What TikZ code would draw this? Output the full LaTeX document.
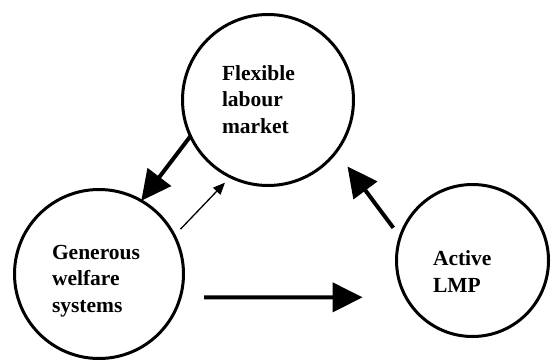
\documentclass[tikz,border=0pt]{standalone}
\usepackage{fontspec}
\setmainfont{Liberation Serif}
\usetikzlibrary{arrows.meta}

\begin{document}
\begin{tikzpicture}[x=1pt,y=1pt]
\tikzstyle{every node}+=[inner sep=0pt,outer sep=0pt]
\tikzstyle{ring}=[draw=black,line width=3pt,circle]
\tikzstyle{lbl}=[align=left,anchor=base west,font=\bfseries\fontsize{21.5}{26.3}\selectfont]
\tikzstyle{bigarrow}=[draw=black,line width=4pt,-{Triangle[length=30pt,width=29pt]}]
\tikzstyle{thinarrow}=[draw=black,line width=1.3pt,-{Triangle[length=12pt,width=10pt]}]
\useasboundingbox (0,0) rectangle (551,-361);
\node [ring,minimum size=171pt] (flex) at (268,-100) {};
\node [ring,minimum size=169pt] (gen) at (99,-274) {};
\node [ring,minimum size=152pt] (act) at (472.5,-260.5) {};
\node [lbl] (flexT) at (222,-133) {Flexible\\labour\\market};
\node [lbl] (genT) at (52,-312) {Generous\\welfare\\systems};
\node [lbl] (actT) at (433,-292) {Active\\LMP};
\draw [bigarrow] (flex.205.4) -- (gen.60.75);
\draw [thinarrow,shorten <=9pt,shorten >=8pt] (gen.27.9) -- (flex.244.8);
\draw [bigarrow,shorten <=24pt,shorten >=43.4pt] (gen.-16.5) -- (act.209.6);
\draw [bigarrow,shorten <=11.5pt,shorten >=18.7pt] (act.162.9) -- (flex.-37.4);
\end{tikzpicture}
\end{document}
